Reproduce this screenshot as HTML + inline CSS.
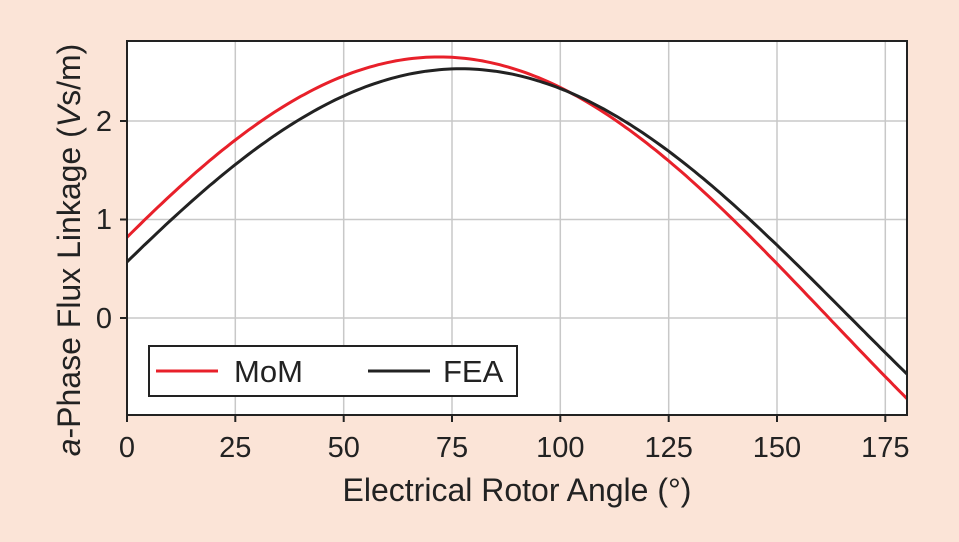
<!DOCTYPE html>
<html><head><style>
html,body{margin:0;padding:0;background:#fbe4d7;}
svg{display:block;font-family:"Liberation Sans",sans-serif;}
</style></head><body>
<svg id="s" width="959" height="542" xmlns="http://www.w3.org/2000/svg">
<rect width="959" height="542" fill="#fbe4d7"/>
<rect x="127" y="41" width="780" height="374" fill="#fff"/>
<g stroke="#c8c8c8" stroke-width="1.5">
<line x1="235.3" y1="41" x2="235.3" y2="415"/><line x1="343.7" y1="41" x2="343.7" y2="415"/>
<line x1="452" y1="41" x2="452" y2="415"/><line x1="560.3" y1="41" x2="560.3" y2="415"/>
<line x1="668.7" y1="41" x2="668.7" y2="415"/><line x1="777" y1="41" x2="777" y2="415"/>
<line x1="885.3" y1="41" x2="885.3" y2="415"/>
<line x1="127" y1="121" x2="907" y2="121"/><line x1="127" y1="219.5" x2="907" y2="219.5"/><line x1="127" y1="318" x2="907" y2="318"/>
</g>
<g id="curves" fill="none" stroke-width="3"></g>
<rect x="127" y="41" width="780" height="374" fill="none" stroke="#222" stroke-width="2"/>
<g stroke="#222" stroke-width="2">
<line x1="120" y1="121" x2="127" y2="121"/><line x1="120" y1="219.5" x2="127" y2="219.5"/><line x1="120" y1="318" x2="127" y2="318"/>
<line x1="127" y1="415" x2="127" y2="422"/><line x1="235.3" y1="415" x2="235.3" y2="422"/><line x1="343.7" y1="415" x2="343.7" y2="422"/><line x1="452" y1="415" x2="452" y2="422"/><line x1="560.3" y1="415" x2="560.3" y2="422"/><line x1="668.7" y1="415" x2="668.7" y2="422"/><line x1="777" y1="415" x2="777" y2="422"/><line x1="885.3" y1="415" x2="885.3" y2="422"/>
</g>
<g font-size="29" fill="#222" text-anchor="end">
<text x="112" y="131">2</text><text x="112" y="229">1</text><text x="112" y="328">0</text>
</g>
<g font-size="29" fill="#222" text-anchor="middle">
<text x="127" y="457">0</text><text x="235.3" y="457">25</text><text x="343.7" y="457">50</text><text x="452" y="457">75</text><text x="560.3" y="457">100</text><text x="668.7" y="457">125</text><text x="777" y="457">150</text><text x="885.3" y="457">175</text>
</g>
<g font-size="32" fill="#222" text-anchor="middle">
<text x="517" y="501">Electrical Rotor Angle (°)</text>
<text transform="translate(80,250) rotate(-90)"><tspan font-style="italic">a</tspan>-Phase Flux Linkage (<tspan font-style="italic">V</tspan>s/m)</text>
</g>
<rect x="149" y="346" width="368" height="50" fill="#fff" stroke="#222" stroke-width="2"/>
<line x1="156" y1="371" x2="218" y2="371" stroke="#e8202a" stroke-width="3"/>
<line x1="368" y1="371" x2="430" y2="371" stroke="#222" stroke-width="3"/>
<g font-size="31" fill="#222"><text x="234" y="382">MoM</text><text x="443" y="382">FEA</text></g>
</svg>
<script>
function path(A,ph,col){var d="";for(var t=0;t<=180;t+=1){var v=A*Math.sin((t+ph)*Math.PI/180);var x=127+t*780/180,y=318-v*98.5;d+=(t?"L":"M")+x.toFixed(1)+","+y.toFixed(1);}
var p=document.createElementNS("http://www.w3.org/2000/svg","path");p.setAttribute("d",d);p.setAttribute("stroke",col);document.getElementById("curves").appendChild(p);}
path(2.65,18,"#e8202a");path(2.53,13,"#222");
</script>
</body></html>
